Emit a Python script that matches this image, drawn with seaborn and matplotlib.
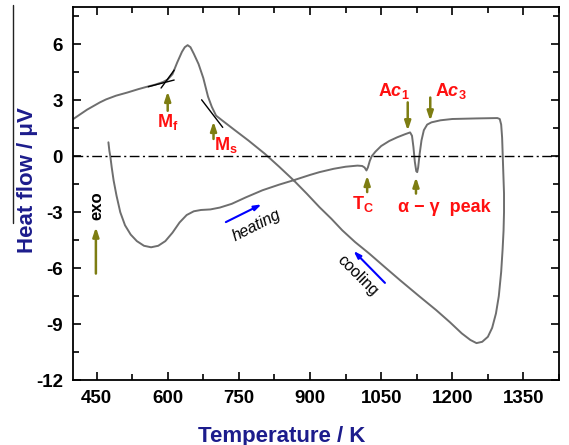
import numpy as np
import pandas as pd
import matplotlib
matplotlib.use("Agg")
import matplotlib.pyplot as plt
from matplotlib.lines import Line2D
import seaborn as sns

# ---------------- data ----------------
heat_T = [475, 477, 479, 482, 486, 492, 500, 510, 522, 535, 550, 565, 580, 595, 610, 625,
          640, 655, 670, 690, 710, 735, 765, 800, 835, 866, 900, 920, 950, 975, 1000, 1010,
          1015, 1019, 1022, 1026, 1030, 1038, 1050, 1067, 1084, 1100, 1111, 1115, 1118, 1121,
          1124, 1126, 1128, 1131, 1135, 1140, 1147, 1156, 1175, 1200, 1250, 1295, 1300, 1303,
          1305, 1307, 1309]
heat_y = [0.75, 0.3, 0.0, -0.6, -1.3, -2.1, -3.0, -3.7, -4.2, -4.55, -4.8, -4.88, -4.8, -4.55,
          -4.1, -3.55, -3.15, -2.95, -2.88, -2.85, -2.75, -2.55, -2.2, -1.82, -1.52, -1.28,
          -1.0, -0.85, -0.67, -0.56, -0.5, -0.52, -0.6, -0.76, -0.6, -0.25, 0.0, 0.25, 0.55,
          0.82, 1.02, 1.18, 1.28, 1.1, 0.5, -0.3, -0.8, -0.85, -0.6, 0.1, 0.85, 1.4, 1.7, 1.82,
          1.93, 2.0, 2.03, 2.05, 2.0, 1.7, 1.0, -0.5, -2.0]
cool_T = [1309, 1308, 1306, 1303, 1298, 1292, 1284, 1275, 1263, 1251, 1238, 1220, 1195, 1166,
          1130, 1090, 1058, 1025, 995, 968, 945, 920, 893, 866, 835, 805, 770, 740, 715, 702,
          693, 685, 675, 665, 655, 648, 642, 636, 630, 620, 610, 600, 590, 572, 555, 538, 515,
          491, 470, 457, 430, 401]
cool_y = [-3.0, -4.0, -5.0, -6.2, -7.5, -8.43, -9.2, -9.68, -9.95, -10.02, -9.85, -9.5, -8.9,
          -8.25, -7.5, -6.65, -5.95, -5.22, -4.6, -3.97, -3.35, -2.73, -2.0, -1.3, -0.56, 0.13,
          0.85, 1.43, 1.92, 2.18, 2.65, 3.2, 4.2, 4.95, 5.5, 5.85, 5.96, 5.85, 5.6, 5.03, 4.4,
          4.12, 3.98, 3.83, 3.72, 3.6, 3.42, 3.25, 3.05, 2.89, 2.5, 2.0]

# tangent construction lines (start T, start y, end T, end y)
tan_T0 = [559, 586, 671.5]
tan_y0 = [3.73, 3.66, 3.03]
tan_T1 = [613.6, 613.6, 716]
tan_y1 = [4.09, 4.62, 1.55]

# annotation arrows (olive): tail -> head
arr_T = [448.6, 600, 696.6, 1020.5, 1123.4, 1106, 1153.5]
arr_y0 = [-6.29, 2.44, 0.93, -1.92, -2.0, 2.89, 3.15]
arr_y1 = [-3.8, 3.48, 1.87, -1.03, -1.12, 1.37, 1.9]

x_ticks = [450, 600, 750, 900, 1050, 1200, 1350]
y_ticks = [-12, -9, -6, -3, 0, 3, 6]

# ---------------- style ----------------
sns.set_theme(style="ticks")
plt.rcParams["font.family"] = ["Liberation Sans", "DejaVu Sans"]
plt.rcParams["font.weight"] = "bold"
plt.rcParams["axes.unicode_minus"] = False
plt.rcParams["mathtext.fontset"] = "custom"
plt.rcParams["mathtext.rm"] = "Liberation Sans:bold"
plt.rcParams["mathtext.it"] = "Liberation Sans:italic:bold"
plt.rcParams["mathtext.bf"] = "Liberation Sans:bold"

fig = plt.figure(figsize=(5.69, 4.45), dpi=100)
ax = fig.add_axes([0.128, 0.146, 0.8545, 0.838])

df = pd.DataFrame({"T": heat_T + cool_T, "y": heat_y + cool_y})
sns.lineplot(data=df, x="T", y="y", sort=False, estimator=None, color="#6e6e6e",
             lw=1.4, ax=ax)

for a, b, c, d in zip(tan_T0, tan_y0, tan_T1, tan_y1):
    ax.plot([a, c], [b, d], color="black", lw=1.0)

ax.axhline(0, color="black", lw=1.0, dashes=(7, 2.5, 1.5, 2.5))

for t, a, b in zip(arr_T, arr_y0, arr_y1):
    ax.annotate("", xy=(t, b), xytext=(t, a),
                arrowprops=dict(arrowstyle="-|>,head_length=0.45,head_width=0.15",
                                color="#7d7d12", lw=1.8, shrinkA=0, shrinkB=0))

# blue direction arrows
ax.annotate("", xy=(797.6, -2.58), xytext=(722.6, -3.53),
            arrowprops=dict(arrowstyle="-|>,head_length=0.35,head_width=0.12",
                            color="blue", lw=1.5, shrinkA=0, shrinkB=0))
ax.annotate("", xy=(992, -5.08), xytext=(1058, -6.79),
            arrowprops=dict(arrowstyle="-|>,head_length=0.35,head_width=0.12",
                            color="blue", lw=1.5, shrinkA=0, shrinkB=0))

red = "#ff1010"
fs = 13
ax.text(577, 1.85, r"$\mathrm{M_f}$", color=red, fontsize=fs, ha="left", va="center")
ax.text(697, 0.62, r"$\mathrm{M_s}$", color=red, fontsize=fs, ha="left", va="center")
ax.text(988, -2.55, r"$\mathrm{T_C}$", color=red, fontsize=fs, ha="left", va="center")
ax.text(1086, -2.75, "α − γ  peak", color=red, fontsize=fs, ha="left", va="center")
ax.text(1044, 3.5, r"$\mathrm{A}c_{1}$", color=red, fontsize=fs, ha="left", va="center")
ax.text(1164, 3.5, r"$\mathrm{A}c_{3}$", color=red, fontsize=fs, ha="left", va="center")
ax.text(450.6, -2.64, "exo", color="black", fontsize=12, rotation=90,
        ha="center", va="center")
ax.text(787, -3.7, "heating", color="black", fontsize=11.5, fontweight="normal",
        style="italic", rotation=27, ha="center", va="center")
ax.text(1000, -6.38, "cooling", color="black", fontsize=11.5, fontweight="normal",
        rotation=-45, ha="center", va="center")

ax.set_xlim(400, 1400)
ax.set_ylim(-12, 8)
ax.set_xticks(x_ticks)
ax.set_yticks(y_ticks)
ax.set_xticks([t + 75 for t in [375] + x_ticks], minor=True)
ax.set_yticks([t + 1.5 for t in [-13.5] + y_ticks], minor=True)
ax.tick_params(which="both", direction="in", top=True, right=True, width=1.2,
               labelsize=13.5, pad=7, colors="black")
ax.tick_params(which="major", length=6)
ax.tick_params(which="minor", length=4)
for lab in ax.get_xticklabels() + ax.get_yticklabels():
    lab.set_fontweight("bold")
for s in ax.spines.values():
    s.set_linewidth(1.3)
    s.set_color("black")

navy = "#1c1c8c"
ax.set_xlabel("Temperature / K", fontsize=16, fontweight="bold", color=navy)
ax.set_ylabel("Heat flow / μV", fontsize=16, fontweight="bold", color=navy)
ax.xaxis.set_label_coords(0.43, -0.122)
ax.yaxis.set_label_coords(-0.071, 0.536)

fig.add_artist(Line2D([13 / 569, 13 / 569], [1 - 5 / 445, 1 - 223 / 445],
                      color="#222222", lw=1.0, transform=fig.transFigure))

fig.savefig("out.png", dpi=100)
